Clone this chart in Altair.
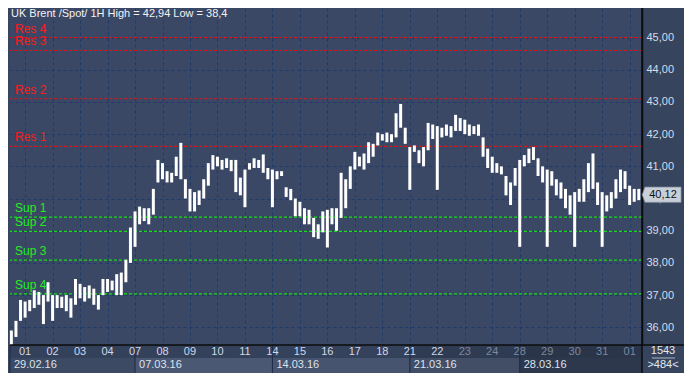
import altair as alt
import pandas as pd

# ---------------- data ----------------
title_text = "UK Brent /Spot/  1H High = 42,94 Low = 38,4"

bar_low = [
    35.45, 35.7, 36.2,
    36.3, 36.5, 36.6, 36.7, 36.1, 36.8,
    36.2, 36.6, 36.6, 36.5, 36.3, 36.7,
    36.9, 36.8, 36.9, 36.7, 36.55, 37.0,
    37.1, 37.15, 37.0, 37.0, 37.4, 38.0,
    38.5, 39.2, 39.3, 39.2, 39.5, 40.5,
    40.6, 40.5, 40.5, 40.7, 40.6, 40.0,
    39.6, 39.6, 39.8, 40.0, 40.4, 40.9,
    41.0, 40.9, 40.95, 40.85, 40.2, 40.1,
    39.73, 40.9, 40.95, 40.95, 40.8, 40.6,
    39.73, 40.6, 40.7, 40.05, 39.95, 39.45,
    39.45, 39.2, 39.2, 38.8, 38.75, 38.95,
    38.48, 39.2, 39.0, 39.4, 39.7, 40.3,
    40.9, 41.0, 40.9, 41.1, 41.3, 41.65,
    41.8, 41.75, 41.75, 41.9, 42.2, 41.7,
    40.27, 41.45, 41.1, 41.0, 41.5, 41.85,
    40.27, 41.9, 41.95, 41.9, 42.1, 42.1,
    42.0, 41.95, 42.0, 41.95, 41.3, 40.95,
    40.8, 40.8, 40.75, 40.1, 39.8, 40.4,
    38.5, 41.0, 41.1, 41.2, 40.7, 40.5,
    38.5, 40.4, 40.1, 40.0, 39.7, 39.5,
    38.5, 39.9, 39.9, 40.2, 40.3, 39.8,
    38.5, 39.6, 39.7, 40.0, 40.2, 40.3,
    39.8, 39.9, 39.95,
]
bar_high = [
    35.9, 36.2, 36.85,
    36.8, 36.85, 37.15, 37.1, 37.0, 37.4,
    37.0, 37.0, 36.95, 37.0, 36.9, 37.5,
    37.35, 37.25, 37.3, 37.2, 37.0, 37.5,
    37.5, 37.45, 37.65, 37.7, 38.1, 39.1,
    39.6, 39.75, 39.7, 39.7, 40.3, 41.2,
    41.1, 40.85, 40.8, 41.3, 41.73, 40.6,
    40.3, 40.2, 40.25, 40.6, 41.1, 41.35,
    41.3, 41.2, 41.25, 41.2, 41.2, 40.65,
    40.9, 41.1, 41.25, 41.2, 41.37, 40.95,
    40.9, 40.85, 40.85, 40.35, 40.3, 40.0,
    39.9, 39.7, 39.65, 39.4, 39.2, 39.6,
    39.65, 39.7, 39.7, 40.8, 40.6, 41.0,
    41.45, 41.3, 41.4, 41.75, 41.7, 42.05,
    42.0, 42.05, 42.0, 42.65, 42.94, 42.2,
    41.6, 41.65, 41.5, 41.6, 42.35, 42.3,
    42.25, 42.2, 42.3, 42.25, 42.6, 42.5,
    42.45, 42.3, 42.25, 42.3, 41.9, 41.55,
    41.3, 41.1, 41.0, 40.7, 40.5, 40.95,
    41.2, 41.35, 41.55, 41.6, 41.25, 41.0,
    40.9, 40.85, 40.6, 40.5, 40.3, 40.1,
    40.2, 40.3, 40.6, 41.1, 41.4, 40.5,
    40.2, 40.1, 40.2, 40.6, 40.9, 40.85,
    40.4, 40.3, 40.3,
]

day_labels = ["01", "02", "03", "04", "07", "08", "09", "10", "11", "14", "15",
              "16", "17", "18", "21", "22", "23", "24", "28", "29", "30", "31", "01"]
week_labels = ["29.02.16", "07.03.16", "14.03.16", "21.03.16", "28.03.16"]
week_first_day = [-0.55, 4, 9, 14, 18]

res_names = ["Res 4", "Res 3", "Res 2", "Res 1"]
res_values = [45.0, 44.6, 43.1, 41.62]
sup_names = ["Sup 1", "Sup 2", "Sup 3", "Sup 4"]
sup_values = [39.42, 38.98, 38.09, 37.04]

last_price = 40.12
y_ticks = [36, 37, 38, 39, 40, 41, 42, 43, 44, 45]
corner_top = "1543"
corner_bottom = ">484<"

# ---------------- layout ----------------
BARS_PER_DAY = 6
OFFSET = 3
W, H = 632, 337
X_MIN, X_MAX = -0.3, 137.7
PLOT_BG = "#3a4865"
PANEL_BG = "#36445d"
FONT = "Liberation Sans"

bars = pd.DataFrame({"i": list(range(len(bar_low))), "lo": bar_low, "hi": bar_high})
day_pos = [BARS_PER_DAY * k + OFFSET for k in range(len(day_labels))]
days = pd.DataFrame({"pos": day_pos, "label": day_labels,
                     "dim": [k >= 16 for k in range(len(day_labels))]})
w_start = [BARS_PER_DAY * d + OFFSET for d in week_first_day]
w_start[0] = X_MIN
w_end = w_start[1:] + [X_MAX]
weeks = pd.DataFrame({"start": w_start, "end": w_end, "label": week_labels,
                      "shade": ["a", "b", "c", "d", "e"]})
levels = pd.DataFrame({
    "name": res_names + sup_names,
    "price": res_values + sup_values,
    "kind": ["res"] * len(res_names) + ["sup"] * len(sup_names),
})
one = pd.DataFrame({"v": [0]})

xscale = alt.Scale(domain=[X_MIN, X_MAX], nice=False, zero=False)
yscale = alt.Scale(domain=[35.45, 45.92], nice=False, zero=False)
xaxis = alt.Axis(values=day_pos, grid=True, labels=False, ticks=False, domain=False,
                 gridColor="#1f3a68", gridDash=[3, 3], gridWidth=1, title=None)
yaxis = alt.Axis(orient="right", values=y_ticks, grid=True, ticks=False, domain=True,
                 domainColor="#0c0c0c", domainWidth=1.5,
                 gridColor="#1f3a68", gridDash=[3, 3], gridWidth=1,
                 labelExpr="replace(format(datum.value, '.2f'), '.', ',')",
                 labelColor="#d4dcec", labelFont=FONT, labelFontSize=11,
                 labelPadding=4, title=None)


def X(field):
    return alt.X(field, type="quantitative", scale=xscale, axis=xaxis)


def Y(field):
    return alt.Y(field, type="quantitative", scale=yscale, axis=yaxis)


price_bars = alt.Chart(bars).mark_rule(color="white", strokeWidth=3).encode(
    x=X("i"), y=Y("lo"), y2="hi")

level_lines = alt.Chart(levels).mark_rule(strokeWidth=1.2, strokeDash=[3, 2]).encode(
    y=Y("price"),
    color=alt.Color("kind:N", scale=alt.Scale(domain=["res", "sup"],
                                              range=["#e01414", "#14e014"]), legend=None))
level_text = alt.Chart(levels).mark_text(align="left", baseline="bottom", dy=-2,
                                         font=FONT, fontSize=12).encode(
    x=alt.value(5), y=Y("price"), text="name:N",
    color=alt.Color("kind:N", scale=alt.Scale(domain=["res", "sup"],
                                              range=["#ff1a1a", "#22ee22"]), legend=None))

title = alt.Chart(one).mark_text(align="left", baseline="middle", font=FONT,
                                 fontSize=11, color="#f2f2f2").encode(
    x=alt.value(1), y=alt.value(6), text=alt.value(title_text))

# bottom axis rows
day_row = alt.Chart(weeks).mark_rect().encode(
    x=X("start"), x2="end", y=alt.value(H), y2=alt.value(H + 13),
    color=alt.Color("shade:N", scale=alt.Scale(
        domain=["a", "b", "c", "d", "e"],
        range=["#33415a", "#33415a", "#34425c", "#2f3b52", "#2a3549"]), legend=None))
date_row = alt.Chart(weeks).mark_rect().encode(
    x=X("start"), x2="end", y=alt.value(H + 13), y2=alt.value(H + 28),
    color=alt.Color("shade:N", scale=alt.Scale(
        domain=["a", "b", "c", "d", "e"],
        range=["#3c4a64", "#4a5874", "#46546f", "#424e66", "#2d384c"]), legend=None))
week_sep = alt.Chart(weeks).mark_rule(color="#1c2a48", strokeWidth=1).encode(
    x=X("start"), y=alt.value(H), y2=alt.value(H + 28))
day_text = alt.Chart(days).mark_text(baseline="middle", font=FONT, fontSize=11).encode(
    x=X("pos"), y=alt.value(H + 7), text="label:N",
    color=alt.Color("dim:N", scale=alt.Scale(domain=[False, True],
                                             range=["#d0d8ea", "#7c889e"]), legend=None))
week_text = alt.Chart(weeks).mark_text(align="left", baseline="middle", dx=4,
                                       font=FONT, fontSize=11, color="#dce2ee").encode(
    x=X("start"), y=alt.value(H + 20), text="label:N")

bottom_line = alt.Chart(one).mark_rule(color="#0c0c0c", strokeWidth=1.5).encode(
    x=alt.value(0), x2=alt.value(W + 42), y=alt.value(H))
right_line = alt.Chart(one).mark_rule(color="#0c0c0c", strokeWidth=1.5).encode(
    x=alt.value(W), y=alt.value(0), y2=alt.value(H + 28))

corner1 = alt.Chart(one).mark_text(font=FONT, fontSize=11, color="#e4e8f0",
                                   baseline="middle").encode(
    x=alt.value(W + 21), y=alt.value(H + 6), text=alt.value(corner_top))
corner_rule = alt.Chart(one).mark_rule(color="#aab4c6", strokeWidth=1).encode(
    x=alt.value(W + 10), x2=alt.value(W + 33), y=alt.value(H + 13))
corner2 = alt.Chart(one).mark_text(font=FONT, fontSize=11, color="#e4e8f0",
                                   baseline="middle").encode(
    x=alt.value(W + 21), y=alt.value(H + 20), text=alt.value(corner_bottom))

tag_df = pd.DataFrame({"p": [last_price],
                       "t": [format(last_price, ".2f").replace(".", ",")]})
tag_shape = "M-1.15,0 L-1,-0.42 L1,-0.42 L1,0.42 L-1,0.42 Z"
tag = alt.Chart(tag_df).mark_point(shape=tag_shape, filled=True, size=1300,
                                   color="#c9cfd9", opacity=1, stroke="#8a94a6",
                                   strokeWidth=0.8).encode(
    x=alt.value(W + 21), y=Y("p"))
tag_text = alt.Chart(tag_df).mark_text(font=FONT, fontSize=11, color="#111111",
                                       baseline="middle").encode(
    x=alt.value(W + 21), y=Y("p"), text="t:N")

chart = alt.layer(
    level_lines, price_bars, level_text, title,
    day_row, date_row, week_sep, day_text, week_text,
    bottom_line, right_line, corner1, corner_rule, corner2, tag, tag_text,
).resolve_scale(color="independent").properties(
    width=W, height=H,
    autosize=alt.AutoSizeParams(type="none"),
    padding={"left": 2, "top": 0, "right": 42, "bottom": 28},
    background=PANEL_BG,
).configure_view(fill=PLOT_BG, stroke=None)

chart.save("out.html", embed_options={"renderer": "svg", "actions": False})
